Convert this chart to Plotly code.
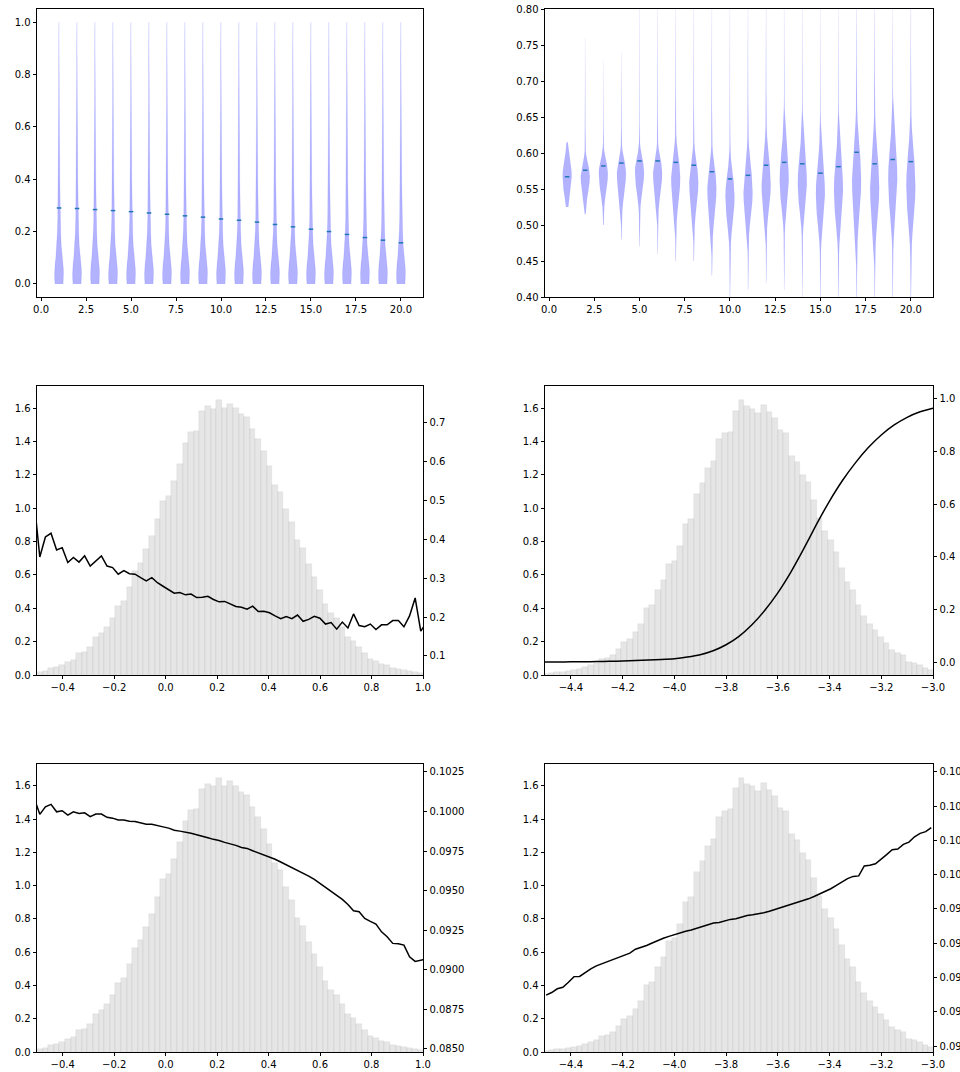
import numpy as np
import plotly.graph_objects as go

W, H = 960, 1072

# ---------------- DATA ----------------
VIOLIN_POS = list(range(1, 21))

# top-left violins: means and common density profile (y, relative half-width)
TL_MEANS = [0.290, 0.288, 0.284, 0.280, 0.276, 0.271, 0.266, 0.260, 0.255, 0.248,
            0.243, 0.236, 0.227, 0.218, 0.209, 0.200, 0.189, 0.177, 0.167, 0.157]
TL_PROFILE_Y = [0.00, 0.02, 0.04, 0.06, 0.08, 0.10, 0.12, 0.15, 0.20, 0.25, 0.30,
                0.40, 0.50, 0.60, 0.70, 0.80, 0.90, 1.00]
TL_PROFILE_W = [0.90, 0.98, 1.00, 0.96, 0.86, 0.72, 0.60, 0.48, 0.37, 0.29, 0.23,
                0.17, 0.135, 0.11, 0.09, 0.075, 0.06, 0.04]

# top-right violins
TR_MEANS = [0.567, 0.576, 0.582, 0.586, 0.589, 0.589, 0.587, 0.583, 0.574, 0.564,
            0.569, 0.583, 0.587, 0.585, 0.572, 0.581, 0.601, 0.585, 0.591, 0.588]
TR_PEAK = [0.567, 0.568, 0.572, 0.573, 0.574, 0.573, 0.566, 0.560, 0.552, 0.540,
           0.545, 0.556, 0.561, 0.556, 0.542, 0.547, 0.563, 0.552, 0.563, 0.554]
TR_SPREAD_LO = [0.018, 0.0165, 0.0185, 0.021, 0.0195, 0.021, 0.0245, 0.024, 0.027, 0.0255,
                0.0235, 0.024, 0.0245, 0.024, 0.0265, 0.029, 0.0345, 0.0315, 0.0325, 0.0325]
TR_SPREAD_HI = [0.0165, 0.0115, 0.012, 0.0125, 0.013, 0.0135, 0.0195, 0.018, 0.0195, 0.021,
                0.0255, 0.0265, 0.029, 0.029, 0.029, 0.031, 0.0325, 0.0335, 0.0325, 0.0325]
TR_MIN = [0.525, 0.515, 0.50, 0.48, 0.47, 0.46, 0.45, 0.45, 0.43, 0.40,
          0.41, 0.42, 0.41, 0.40, 0.40, 0.40, 0.40, 0.40, 0.40, 0.40]
TR_MAX = [0.615, 0.76, 0.73, 0.74, 0.82, 0.82, 0.82, 0.82, 0.82, 0.82,
          0.82, 0.82, 0.82, 0.82, 0.82, 0.82, 0.82, 0.82, 0.82, 0.82]
TR_PROFILE_Z = [0.0, 0.5, 1.0, 1.5, 2.0, 2.5, 3.0, 3.5, 4.0, 5.0, 6.0, 8.0, 12.0, 20.0]
TR_PROFILE_W = [1.0, 0.95, 0.80, 0.58, 0.36, 0.21, 0.12, 0.075, 0.05, 0.03, 0.02, 0.012, 0.006, 0.003]

# histogram (left column panels): density per bin
HIST_L_START = -0.5
HIST_L_WIDTH = 0.02177
HIST_L = [0.018, 0.024, 0.040, 0.048, 0.060, 0.078, 0.092, 0.132, 0.140, 0.168,
          0.226, 0.251, 0.287, 0.341, 0.413, 0.443, 0.527, 0.623, 0.671, 0.754,
          0.832, 0.934, 1.042, 1.072, 1.162, 1.263, 1.389, 1.455, 1.461, 1.581,
          1.611, 1.597, 1.647, 1.601, 1.627, 1.601, 1.563, 1.545, 1.473, 1.413,
          1.341, 1.251, 1.138, 1.096, 0.992, 0.916, 0.808, 0.760, 0.663, 0.587,
          0.509, 0.425, 0.371, 0.341, 0.289, 0.230, 0.204, 0.166, 0.134, 0.094,
          0.082, 0.066, 0.058, 0.044, 0.038, 0.028, 0.022, 0.018, 0.012]

# histogram (right column panels)
HIST_R_START = -4.5065
HIST_R_WIDTH = 0.02158
HIST_R = [0.008, 0.014, 0.018, 0.020, 0.024, 0.030, 0.038, 0.050, 0.062, 0.074,
          0.098, 0.102, 0.122, 0.156, 0.198, 0.214, 0.257, 0.305, 0.403, 0.419,
          0.509, 0.571, 0.665, 0.683, 0.772, 0.904, 0.934, 1.084, 1.148, 1.240,
          1.281, 1.415, 1.449, 1.459, 1.585, 1.647, 1.611, 1.597, 1.571, 1.617,
          1.577, 1.539, 1.469, 1.449, 1.311, 1.275, 1.198, 1.156, 1.048, 0.940,
          0.862, 0.808, 0.737, 0.641, 0.557, 0.509, 0.419, 0.353, 0.305, 0.269,
          0.228, 0.192, 0.150, 0.134, 0.122, 0.078, 0.074, 0.060, 0.044, 0.032]

# line, middle-left (at left-histogram bin centres, starting one bin before -0.5)
LINE_ML = [0.496, 0.354, 0.4055, 0.415, 0.372, 0.378, 0.340, 0.353, 0.341, 0.357,
           0.331, 0.345, 0.357, 0.331, 0.327, 0.310, 0.319, 0.311, 0.310, 0.301,
           0.293, 0.301, 0.288, 0.279, 0.269, 0.261, 0.263, 0.257, 0.259, 0.250,
           0.251, 0.253, 0.245, 0.239, 0.240, 0.233, 0.227, 0.225, 0.220, 0.228,
           0.214, 0.215, 0.211, 0.203, 0.196, 0.201, 0.196, 0.205, 0.189, 0.194,
           0.202, 0.197, 0.182, 0.186, 0.169, 0.187, 0.172, 0.208, 0.178, 0.175,
           0.182, 0.168, 0.180, 0.180, 0.191, 0.191, 0.175, 0.203, 0.249, 0.164,
           0.185]

# line, bottom-left (same x as LINE_ML)
LINE_BL = [0.10083, 0.09982, 0.10030, 0.10045, 0.09998, 0.10005, 0.09977, 0.09998, 0.09988, 0.09992,
           0.09967, 0.09984, 0.09984, 0.09963, 0.09958, 0.09946, 0.09946, 0.09939, 0.09937, 0.09929,
           0.09920, 0.09920, 0.09910, 0.09903, 0.09895, 0.09882, 0.09876, 0.09870, 0.09862, 0.09853,
           0.09845, 0.09834, 0.09824, 0.09817, 0.09805, 0.09796, 0.09786, 0.09773, 0.09767, 0.09752,
           0.09739, 0.09727, 0.09714, 0.09698, 0.09681, 0.09664, 0.09647, 0.09628, 0.09609, 0.09592,
           0.09571, 0.09546, 0.09518, 0.09496, 0.09470, 0.09445, 0.09413, 0.09373, 0.09367, 0.09325,
           0.09306, 0.09289, 0.09240, 0.09209, 0.09167, 0.09165, 0.09156, 0.09082, 0.09053, 0.09062,
           0.09068]

# line, middle-right
LINE_MR_X = [-4.50, -4.45, -4.40, -4.35, -4.30, -4.25, -4.20, -4.15, -4.10, -4.05,
             -4.00, -3.95, -3.90, -3.85, -3.80, -3.75, -3.70, -3.65, -3.60, -3.55,
             -3.50, -3.45, -3.40, -3.35, -3.30, -3.25, -3.20, -3.15, -3.10, -3.05, -3.00]
LINE_MR = [0.000, 0.000, 0.001, 0.001, 0.002, 0.003, 0.004, 0.006, 0.008, 0.010,
           0.013, 0.019, 0.028, 0.043, 0.066, 0.098, 0.142, 0.197, 0.263, 0.341,
           0.430, 0.524, 0.612, 0.690, 0.757, 0.815, 0.863, 0.901, 0.930, 0.951, 0.965]

# line, bottom-right (at right-histogram bin centres)
LINE_BR = [0.099297, 0.099312, 0.099334, 0.099343, 0.099372, 0.099405, 0.099406, 0.099429, 0.099450, 0.099468,
           0.099481, 0.099491, 0.099505, 0.099516, 0.099529, 0.099542, 0.099565, 0.099574, 0.099587, 0.099601,
           0.099617, 0.099629, 0.099640, 0.099651, 0.099658, 0.099670, 0.099677, 0.099687, 0.099698, 0.099707,
           0.099718, 0.099721, 0.099731, 0.099739, 0.099743, 0.099754, 0.099762, 0.099766, 0.099770, 0.099778,
           0.099787, 0.099797, 0.099809, 0.099818, 0.099826, 0.099840, 0.099846, 0.099859, 0.099873, 0.099888,
           0.099902, 0.099918, 0.099937, 0.099958, 0.099977, 0.099990, 0.099993, 0.100051, 0.100055, 0.100064,
           0.100088, 0.100117, 0.100146, 0.100150, 0.100177, 0.100190, 0.100221, 0.100241, 0.100251, 0.100275]

# ---------------- STYLE ----------------
FONT = dict(family="DejaVu Sans", size=10, color="black")
VIOLIN_FILL = "rgba(0,0,255,0.3)"
TL_EDGE = "rgba(0,0,255,0.14)"
TR_EDGE = "rgba(0,0,255,0.05)"
MEAN_COLOR = "#1f77b4"
BAR_FILL = "rgba(128,128,128,0.2)"
BAR_EDGE = "rgba(128,128,128,0.16)"
HALF_W = 0.25  # violin half width (widths=0.5)

fig = go.Figure()


def violin_polys(pos_list, ys_list, ws_list):
    xs, ys = [], []
    for p, yv, wv in zip(pos_list, ys_list, ws_list):
        yv = np.asarray(yv)
        wv = np.asarray(wv) * HALF_W
        xs += list(p + wv) + list((p - wv)[::-1]) + [None]
        ys += list(yv) + list(yv[::-1]) + [None]
    return xs, ys


def mean_segments(pos_list, means):
    xs, ys = [], []
    for p, m in zip(pos_list, means):
        xs += [p - HALF_W / 2, p + HALF_W / 2, None]
        ys += [m, m, None]
    return xs, ys


# --- top-left violins
tl_y = [TL_PROFILE_Y for _ in VIOLIN_POS]
tl_w = [TL_PROFILE_W for _ in VIOLIN_POS]
vx, vy = violin_polys(VIOLIN_POS, tl_y, tl_w)
fig.add_trace(go.Scatter(x=vx, y=vy, xaxis="x", yaxis="y", mode="lines", fill="toself",
                         fillcolor=VIOLIN_FILL, line=dict(color=TL_EDGE, width=0.5),
                         hoverinfo="skip"))
mx, my = mean_segments(VIOLIN_POS, TL_MEANS)
fig.add_trace(go.Scatter(x=mx, y=my, xaxis="x", yaxis="y", mode="lines",
                         line=dict(color=MEAN_COLOR, width=1.5)))

# --- top-right violins
pz = np.asarray(TR_PROFILE_Z)
pw = np.asarray(TR_PROFILE_W)
tr_y, tr_w = [], []
for pk, slo, shi, lo, hi in zip(TR_PEAK, TR_SPREAD_LO, TR_SPREAD_HI, TR_MIN, TR_MAX):
    up = pk + pz * shi
    dn = pk - pz * slo
    keep_up = up < hi
    keep_dn = dn > lo
    w_hi = np.interp((hi - pk) / shi, pz, pw)
    w_lo = np.interp((pk - lo) / slo, pz, pw)
    yy = [lo] + list(dn[keep_dn][::-1]) + list(up[keep_up][1:]) + [hi]
    ww = [w_lo] + list(pw[keep_dn][::-1]) + list(pw[keep_up][1:]) + [w_hi]
    tr_y.append(yy)
    tr_w.append(ww)
vx, vy = violin_polys(VIOLIN_POS, tr_y, tr_w)
fig.add_trace(go.Scatter(x=vx, y=vy, xaxis="x2", yaxis="y2", mode="lines", fill="toself",
                         fillcolor=VIOLIN_FILL, line=dict(color=TR_EDGE, width=0.5),
                         hoverinfo="skip"))
mx, my = mean_segments(VIOLIN_POS, TR_MEANS)
fig.add_trace(go.Scatter(x=mx, y=my, xaxis="x2", yaxis="y2", mode="lines",
                         line=dict(color=MEAN_COLOR, width=1.5)))

# --- histograms + lines
hl_x = [HIST_L_START + (i + 0.5) * HIST_L_WIDTH for i in range(len(HIST_L))]
hr_x = [HIST_R_START + (i + 0.5) * HIST_R_WIDTH for i in range(len(HIST_R))]
ln_l_x = [HIST_L_START + (i - 0.5) * HIST_L_WIDTH for i in range(len(LINE_ML))]
ln_r_x = hr_x

panels = [
    ("x3", "y3", "y7", hl_x, HIST_L, HIST_L_WIDTH, ln_l_x, LINE_ML, "linear"),
    ("x4", "y4", "y8", hr_x, HIST_R, HIST_R_WIDTH, LINE_MR_X, LINE_MR, "spline"),
    ("x5", "y5", "y9", hl_x, HIST_L, HIST_L_WIDTH, ln_l_x, LINE_BL, "linear"),
    ("x6", "y6", "y10", hr_x, HIST_R, HIST_R_WIDTH, ln_r_x, LINE_BR, "linear"),
]
for xa, ya, ya2, bx, by, bw, lx, ly, shape in panels:
    fig.add_trace(go.Bar(x=bx, y=by, width=bw, xaxis=xa, yaxis=ya,
                         marker=dict(color=BAR_FILL, line=dict(color=BAR_EDGE, width=0.5)),
                         hoverinfo="skip"))
    line = dict(color="black", width=1.5, shape=shape)
    if shape == "spline":
        line["smoothing"] = 0.6
    fig.add_trace(go.Scatter(x=lx, y=ly, xaxis=xa, yaxis=ya2, mode="lines", line=line))

# ---------------- LAYOUT ----------------
def px_x(a, b):
    return [a / W, b / W]


def px_y(top, bottom):
    return [1 - bottom / H, 1 - top / H]


XL, XR = px_x(37, 423), px_x(545, 933)
YT, YM, YB = px_y(9, 297), px_y(386, 675), px_y(764, 1052)

base = dict(showline=True, linecolor="black", linewidth=0.8, mirror=True,
            ticks="outside", ticklen=3.5, tickwidth=0.8, tickcolor="black",
            showgrid=False, zeroline=False, tickfont=FONT, automargin=False)


def ax(**kw):
    d = dict(base)
    d.update(kw)
    return d


layout = dict(
    width=W, height=H, margin=dict(l=0, r=0, t=0, b=0, autoexpand=False),
    paper_bgcolor="white", plot_bgcolor="white", showlegend=False,
    font=FONT, bargap=0,
    xaxis=ax(domain=XL, anchor="y", range=[-0.225, 21.225], tick0=0, dtick=2.5, tickformat=".1f"),
    yaxis=ax(domain=YT, anchor="x", range=[-0.05, 1.05], tick0=0, dtick=0.2, tickformat=".1f"),
    xaxis2=ax(domain=XR, anchor="y2", range=[-0.225, 21.225], tick0=0, dtick=2.5, tickformat=".1f"),
    yaxis2=ax(domain=YT, anchor="x2", range=[0.40, 0.80], tick0=0.4, dtick=0.05, tickformat=".2f"),
    xaxis3=ax(domain=XL, anchor="y3", range=[-0.5, 1.0], tick0=0, dtick=0.2, tickformat=".1f"),
    yaxis3=ax(domain=YM, anchor="x3", range=[0, 1.732], tick0=0, dtick=0.2, tickformat=".1f"),
    xaxis4=ax(domain=XR, anchor="y4", range=[-4.5, -3.0], tick0=0, dtick=0.2, tickformat=".1f"),
    yaxis4=ax(domain=YM, anchor="x4", range=[0, 1.732], tick0=0, dtick=0.2, tickformat=".1f"),
    xaxis5=ax(domain=XL, anchor="y5", range=[-0.5, 1.0], tick0=0, dtick=0.2, tickformat=".1f"),
    yaxis5=ax(domain=YB, anchor="x5", range=[0, 1.732], tick0=0, dtick=0.2, tickformat=".1f"),
    xaxis6=ax(domain=XR, anchor="y6", range=[-4.5, -3.0], tick0=0, dtick=0.2, tickformat=".1f"),
    yaxis6=ax(domain=YB, anchor="x6", range=[0, 1.732], tick0=0, dtick=0.2, tickformat=".1f"),
    yaxis7=ax(overlaying="y3", anchor="x3", side="right", mirror=False,
              range=[0.0512, 0.793], tick0=0, dtick=0.1, tickformat=".1f"),
    yaxis8=ax(overlaying="y4", anchor="x4", side="right", mirror=False,
              range=[-0.049, 1.049], tick0=0, dtick=0.2, tickformat=".1f"),
    yaxis9=ax(overlaying="y5", anchor="x5", side="right", mirror=False,
              range=[0.08481, 0.10300], tick0=0.085, dtick=0.0025, tickformat=".4f"),
    yaxis10=ax(overlaying="y6", anchor="x6", side="right", mirror=False,
               range=[0.098965, 0.100646], tick0=0.099, dtick=0.0002, tickformat=".4f"),
)
fig.update_layout(**layout)

fig.write_html("out.html")
